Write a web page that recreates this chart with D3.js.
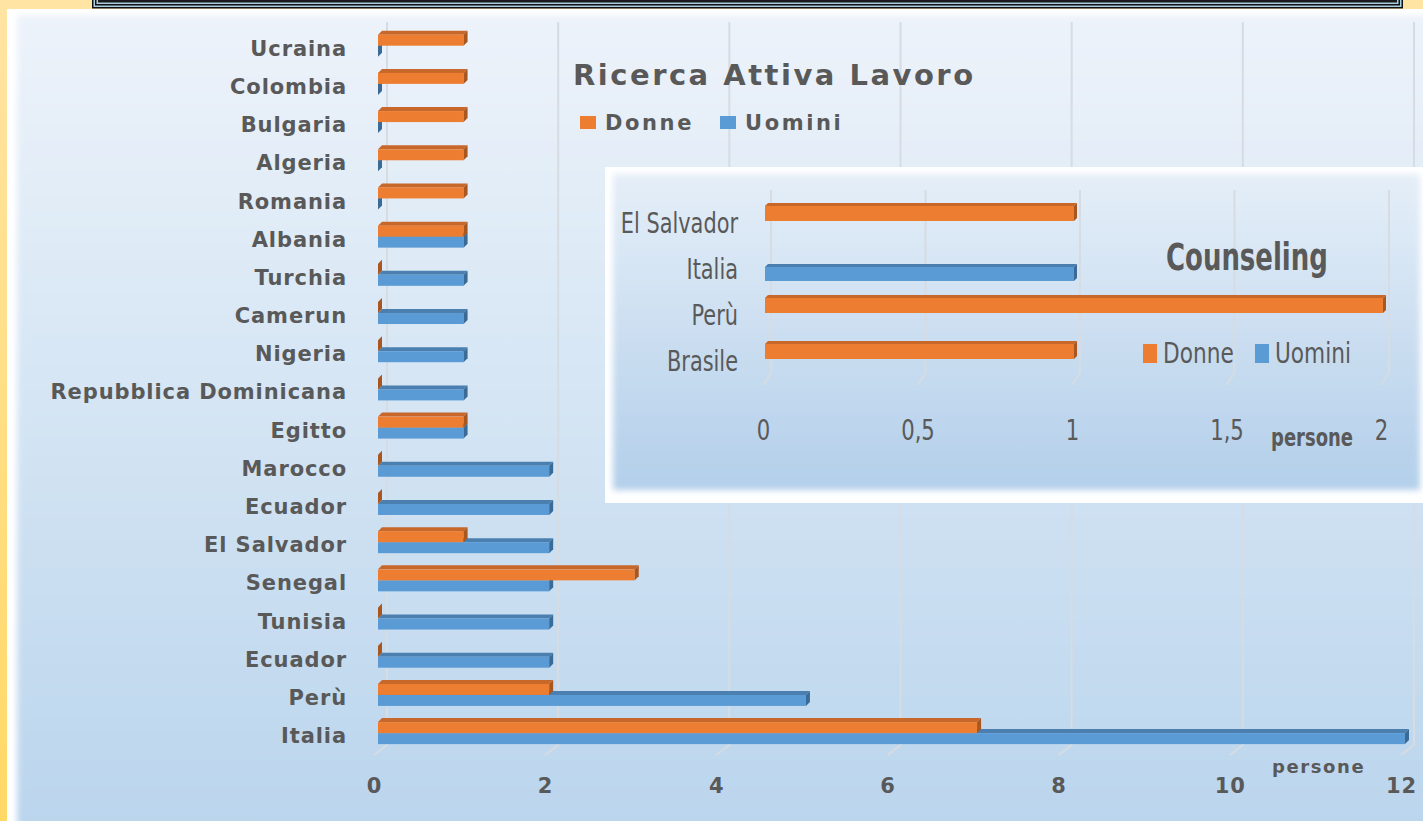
<!DOCTYPE html>
<html><head><meta charset="utf-8">
<script src="https://cdn.jsdelivr.net/npm/d3@7"></script>
<style>
html,body{margin:0;padding:0;background:#fff;overflow:hidden}
svg{display:block}
</style></head>
<body>
<svg id="c" width="1423" height="821"></svg>
<script>
// ---------- data ----------
const categories = ["Ucraina","Colombia","Bulgaria","Algeria","Romania","Albania","Turchia","Camerun","Nigeria","Repubblica Dominicana","Egitto","Marocco","Ecuador","El Salvador","Senegal","Tunisia","Ecuador","Perù","Italia"];
const donne  = [1,1,1,1,1,1,0,0,0,0,1,0,0,1,3,0,0,2,7];
const uomini = [0,0,0,0,0,1,1,1,1,1,1,2,2,2,2,2,2,5,12];
const xTicks = [0,2,4,6,8,10,12];
const seriesNames = ["Donne","Uomini"];

const insetCategories = ["El Salvador","Italia","Perù","Brasile"];
const insetDonne  = [1,null,2,1];
const insetUomini = [null,1,null,null];
const insetTicks = [0,0.5,1,1.5,2];

// ---------- setup ----------
const svg = d3.select("#c");
const defs = svg.append("defs");
const TXT = "#595959";
const WIDE = "'DejaVu Sans',Verdana,sans-serif";
const NARROW = "'Liberation Sans Narrow','DejaVu Sans Condensed',sans-serif";
const C = {
  o:{front:"#ED7D31", top:"#C8672A", side:"#A9561F"},
  b:{front:"#5B9BD5", top:"#4A7FB0", side:"#3A6A96"}
};
function lg(id, c1, c2){
  const g = defs.append("linearGradient").attr("id",id).attr("x1",0).attr("y1",0).attr("x2",0).attr("y2",1);
  g.append("stop").attr("offset","0%").attr("stop-color",c1);
  g.append("stop").attr("offset","100%").attr("stop-color",c2);
}
lg("gYel","#FFE4A3","#FFD966");
lg("gMain","#EDF3FA","#BAD5ED");
lg("gInset","#E5EEF8","#B3CFEA");
const f = defs.append("filter").attr("id","soft").attr("x","-5%").attr("y","-5%").attr("width","110%").attr("height","110%");
f.append("feGaussianBlur").attr("stdDeviation",3);

function condense(sel, k){
  sel.each(function(){
    const L = this.getComputedTextLength();
    d3.select(this).attr("textLength", L*k).attr("lengthAdjust","spacingAndGlyphs");
  });
}

// background
svg.append("rect").attr("x",0).attr("y",0).attr("width",1423).attr("height",821).attr("fill","url(#gYel)");
// top frame box
const frame = [["#111",0],["#A9CFE0",1.5],["#111",3],["#A9CFE0",4.5],["#1b1b1b",6]];
frame.forEach(([col,i])=>{
  svg.append("rect").attr("x",92+i).attr("y",-20).attr("width",1311-2*i).attr("height",28.5-i).attr("fill",col);
});

// main panel
svg.append("rect").attr("x",7).attr("y",9).attr("width",1430).attr("height",830).attr("fill","#fff");
svg.append("rect").attr("x",17).attr("y",15).attr("width",1420).attr("height",820).attr("fill","url(#gMain)").attr("filter","url(#soft)");

// 3D bar helper
function bar3d(g, x0, x1, yTop, h, col, d){
  g.append("path").attr("d",`M${x0},${yTop}L${x0+d},${yTop-d}L${x1+d},${yTop-d}L${x1},${yTop}Z`).attr("fill",col.top);
  if (x1 > x0) g.append("rect").attr("x",x0).attr("y",yTop).attr("width",x1-x0).attr("height",h).attr("fill",col.front);
  g.append("path").attr("d",`M${x1},${yTop}L${x1+d},${yTop-d}L${x1+d},${yTop+h-d}L${x1},${yTop+h}Z`).attr("fill",col.side);
}

// ---------- main chart ----------
const x = d3.scaleLinear().domain([0,12]).range([378,1405]);
const y = d3.scaleBand().domain(d3.range(categories.length)).range([26.6, 26.6+19*38.19]);
const bc = i => y(i) + y.bandwidth()/2;

const gMain = svg.append("g");
xTicks.forEach(v=>{
  const gx = x(v)+9;
  gMain.append("path").attr("d",`M${gx},22L${gx},745L${gx-13},755`).attr("fill","none").attr("stroke","#D6DCE2").attr("stroke-width",2);
});

const bars = gMain.append("g");
categories.forEach((c,i)=>{
  const b = bc(i);
  bar3d(bars, x(0), x(uomini[i]), b, 11, C.b, 4);
  bar3d(bars, x(0), x(donne[i]), b-11, 11, C.o, 4);
});

const yAxis = d3.axisLeft(y).tickSize(0).tickPadding(0).tickFormat(i=>categories[i]);
const gy = svg.append("g").attr("transform","translate(347,2.5)").call(yAxis);
gy.select(".domain").remove();
gy.selectAll("text").attr("fill",TXT).attr("font-family",WIDE)
  .attr("font-weight","bold").attr("font-size",21).attr("dy","0.36em").attr("letter-spacing",0.9);

const xAxis = d3.axisBottom(x).tickValues(xTicks).tickSize(0).tickPadding(0).tickFormat(d3.format("d"));
const gx = svg.append("g").attr("transform","translate(-4,778)").call(xAxis);
gx.select(".domain").remove();
gx.selectAll("text").attr("fill",TXT).attr("font-family",WIDE)
  .attr("font-weight","bold").attr("font-size",21).attr("dy","0.71em").attr("letter-spacing",1);

svg.append("text").attr("x",1272).attr("y",773).text("persone").attr("fill",TXT)
  .attr("font-family",WIDE).attr("font-weight","bold").attr("font-size",18).attr("letter-spacing",1.6);

svg.append("text").attr("x",573).attr("y",85).text("Ricerca Attiva Lavoro").attr("fill",TXT)
  .attr("font-family",WIDE).attr("font-weight","bold").attr("font-size",29).attr("letter-spacing",2.5);
const legX = [580,720];
seriesNames.forEach((s,i)=>{
  svg.append("rect").attr("x",legX[i]).attr("y",116).attr("width",16).attr("height",13).attr("fill",i?C.b.front:C.o.front);
  svg.append("text").attr("x",legX[i]+25).attr("y",130).text(s).attr("fill",TXT)
    .attr("font-family",WIDE).attr("font-weight","bold").attr("font-size",21).attr("letter-spacing",2.6);
});

// ---------- inset chart ----------
svg.append("rect").attr("x",605).attr("y",167).attr("width",830).attr("height",336).attr("fill","#fff");
svg.append("rect").attr("x",613).attr("y",174).attr("width",807).attr("height",316).attr("fill","url(#gInset)").attr("filter","url(#soft)");

const x2 = d3.scaleLinear().domain([0,2]).range([765,1383]);
const y2 = d3.scaleBand().domain(d3.range(insetCategories.length)).range([198, 198+4*46]);
const bc2 = i => y2(i) + y2.bandwidth()/2;

const gIn = svg.append("g");
insetTicks.forEach(v=>{
  const gxv = x2(v)+6;
  gIn.append("path").attr("d",`M${gxv},190L${gxv},373L${gxv-8},385`).attr("fill","none").attr("stroke","#D6DCE2").attr("stroke-width",2);
});
insetCategories.forEach((c,i)=>{
  const b = bc2(i);
  if (insetUomini[i] != null) bar3d(gIn, x2(0), x2(insetUomini[i]), b, 14, C.b, 3);
  if (insetDonne[i] != null) bar3d(gIn, x2(0), x2(insetDonne[i]), b-15, 15, C.o, 3);
});

const y2Axis = d3.axisLeft(y2).tickSize(0).tickPadding(0).tickFormat(i=>insetCategories[i]);
const gy2 = svg.append("g").attr("transform","translate(738,1.5)").call(y2Axis);
gy2.select(".domain").remove();
gy2.selectAll("text").attr("fill",TXT).attr("font-family",NARROW).attr("font-size",29).attr("dy","0.36em")
  .call(condense, 0.8);

const x2Axis = d3.axisBottom(x2).tickValues(insetTicks).tickSize(0).tickPadding(0).tickFormat(d=>String(d).replace(".",","));
const gx2 = svg.append("g").attr("transform","translate(-2,420)").call(x2Axis);
gx2.select(".domain").remove();
gx2.selectAll("text").attr("fill",TXT).attr("font-family",NARROW).attr("font-size",28).attr("dy","0.71em")
  .call(condense, 0.84);

svg.append("text").attr("x",1271).attr("y",446).text("persone").attr("fill",TXT)
  .attr("font-family",NARROW).attr("font-weight","bold").attr("font-size",25).call(condense, 0.8);

svg.append("text").attr("x",1166).attr("y",270).text("Counseling").attr("fill",TXT)
  .attr("font-family",NARROW).attr("font-weight","bold").attr("font-size",37).call(condense, 0.78);
const leg2X = [1143,1255];
seriesNames.forEach((s,i)=>{
  svg.append("rect").attr("x",leg2X[i]).attr("y",344).attr("width",14).attr("height",19).attr("fill",i?C.b.front:C.o.front);
  svg.append("text").attr("x",leg2X[i]+20).attr("y",363).text(s).attr("fill",TXT)
    .attr("font-family",NARROW).attr("font-size",29).call(condense, 0.83);
});
</script>
</body></html>
